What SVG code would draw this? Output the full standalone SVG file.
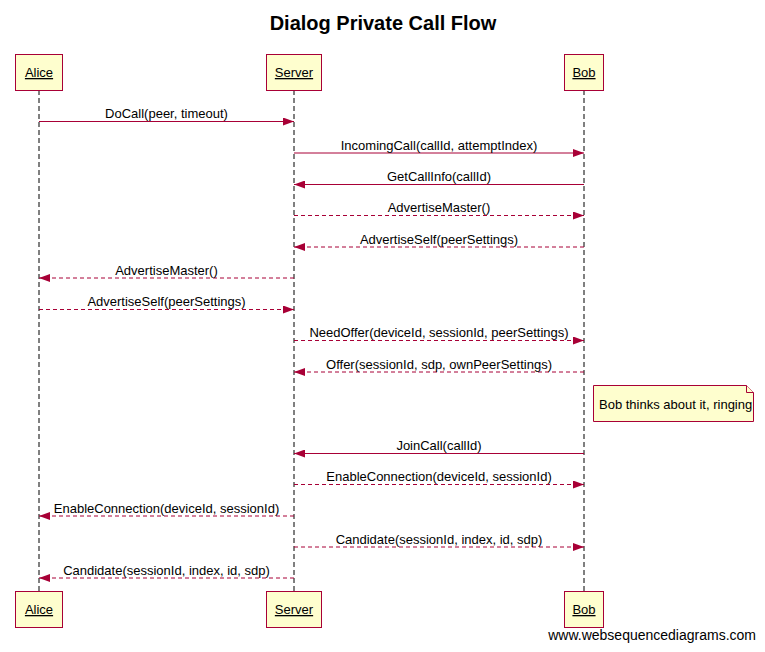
<svg xmlns="http://www.w3.org/2000/svg" width="765" height="652" viewBox="0 0 765 652">
<style>
text{font-family:"Liberation Sans",Arial,sans-serif;fill:#000}
.title{font-size:20px;font-weight:bold;text-anchor:middle}
.actor rect{fill:#FEFECE;stroke:#A80036;stroke-width:1}
.actor text{font-size:13px;text-anchor:middle;text-decoration:underline}
.life{stroke:#000;stroke-width:1;stroke-dasharray:5,3;fill:none}
.msg{stroke:#A80036;stroke-width:1;fill:none}
.dash{stroke-dasharray:4,3}
.lbl{font-size:13px;text-anchor:middle}
.note{fill:#FEFECE;stroke:#A80036;stroke-width:1}
</style>
<defs>
<marker id="ah" viewBox="0 0 11 8" refX="11" refY="4" markerWidth="11" markerHeight="8" markerUnits="userSpaceOnUse" orient="auto">
<path d="M0,0 L11,4 L0,8 Z" fill="#A80036"/>
</marker>
</defs>
<rect width="765" height="652" fill="#fff"/>
<text class="title" x="383" y="30">Dialog Private Call Flow</text>
<g id="lifelines">
<line class="life" x1="39" y1="90" x2="39" y2="591"/>
<line class="life" x1="294" y1="90" x2="294" y2="591"/>
<line class="life" x1="584" y1="90" x2="584" y2="591"/>
</g>
<g id="alice" class="actor">
<rect x="15.5" y="54.5" width="47" height="36"/>
<text x="39" y="77">Alice</text>
<rect x="15.5" y="591.5" width="47" height="36"/>
<text x="39" y="614">Alice</text>
</g>
<g id="server" class="actor">
<rect x="266.5" y="54.5" width="55" height="36"/>
<text x="294" y="77">Server</text>
<rect x="266.5" y="591.5" width="55" height="36"/>
<text x="294" y="614">Server</text>
</g>
<g id="bob" class="actor">
<rect x="564.5" y="54.5" width="39" height="36"/>
<text x="584" y="77">Bob</text>
<rect x="564.5" y="591.5" width="39" height="36"/>
<text x="584" y="614">Bob</text>
</g>
<g id="connectors">
<line class="msg" x1="39" y1="121.5" x2="294" y2="121.5" marker-end="url(#ah)"/>
<text class="lbl" x="166.5" y="118">DoCall(peer, timeout)</text>
<line class="msg" x1="294" y1="153" x2="584" y2="153" marker-end="url(#ah)"/>
<text class="lbl" x="439" y="149.5">IncomingCall(callId, attemptIndex)</text>
<line class="msg" x1="584" y1="184.5" x2="294" y2="184.5" marker-end="url(#ah)"/>
<text class="lbl" x="439" y="181">GetCallInfo(callId)</text>
<line class="msg dash" x1="294" y1="215.5" x2="584" y2="215.5" marker-end="url(#ah)"/>
<text class="lbl" x="439" y="212">AdvertiseMaster()</text>
<line class="msg dash" x1="584" y1="247" x2="294" y2="247" marker-end="url(#ah)"/>
<text class="lbl" x="439" y="243.5">AdvertiseSelf(peerSettings)</text>
<line class="msg dash" x1="294" y1="278" x2="39" y2="278" marker-end="url(#ah)"/>
<text class="lbl" x="166.5" y="274.5">AdvertiseMaster()</text>
<line class="msg dash" x1="39" y1="309.5" x2="294" y2="309.5" marker-end="url(#ah)"/>
<text class="lbl" x="166.5" y="306">AdvertiseSelf(peerSettings)</text>
<line class="msg dash" x1="294" y1="340.5" x2="584" y2="340.5" marker-end="url(#ah)"/>
<text class="lbl" x="439" y="337">NeedOffer(deviceId, sessionId, peerSettings)</text>
<line class="msg dash" x1="584" y1="372" x2="294" y2="372" marker-end="url(#ah)"/>
<text class="lbl" x="439" y="368.5">Offer(sessionId, sdp, ownPeerSettings)</text>
<line class="msg" x1="584" y1="453.5" x2="294" y2="453.5" marker-end="url(#ah)"/>
<text class="lbl" x="439" y="450">JoinCall(callId)</text>
<line class="msg dash" x1="294" y1="484.5" x2="584" y2="484.5" marker-end="url(#ah)"/>
<text class="lbl" x="439" y="481">EnableConnection(deviceId, sessionId)</text>
<line class="msg dash" x1="294" y1="516" x2="39" y2="516" marker-end="url(#ah)"/>
<text class="lbl" x="166.5" y="512.5">EnableConnection(deviceId, sessionId)</text>
<line class="msg dash" x1="294" y1="547" x2="584" y2="547" marker-end="url(#ah)"/>
<text class="lbl" x="439" y="543.5">Candidate(sessionId, index, id, sdp)</text>
<line class="msg dash" x1="294" y1="578" x2="39" y2="578" marker-end="url(#ah)"/>
<text class="lbl" x="166.5" y="574.5">Candidate(sessionId, index, id, sdp)</text>
</g>
<g id="note">
<path class="note" d="M593.5,385.5 H746.5 L753.5,392.5 V421.5 H593.5 Z"/>
<path class="note" d="M746.5,385.5 V392.5 H753.5"/>
<text x="599" y="408.5" style="font-size:13px">Bob thinks about it, ringing</text>
</g>
<text x="756" y="640" style="font-size:14px;text-anchor:end">www.websequencediagrams.com</text>
</svg>
